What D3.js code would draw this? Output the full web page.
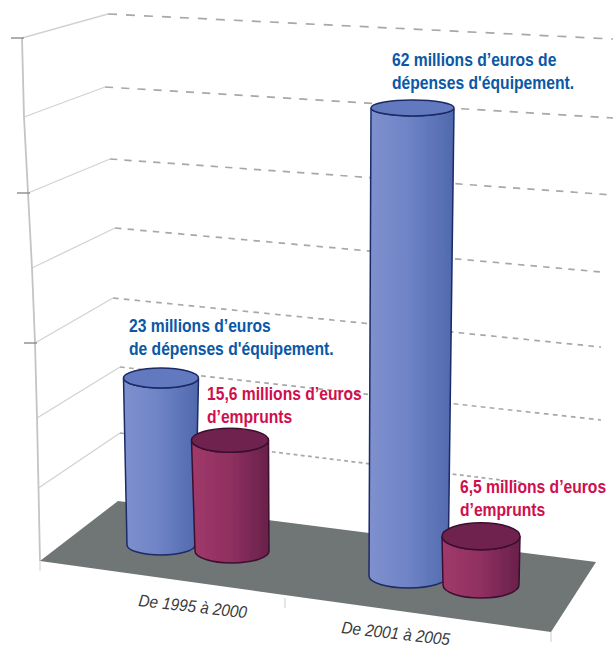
<!DOCTYPE html>
<html>
<head>
<meta charset="utf-8">
<script src="https://cdn.jsdelivr.net/npm/d3@7"></script>
<style>
html, body { margin: 0; padding: 0; background: #fff; }
svg { display: block; }
.note { font-family: "Liberation Sans", sans-serif; font-weight: bold; font-size: 18px; }
.cat { font-family: "Liberation Sans", sans-serif; font-style: italic; font-size: 17px; fill: #3a3a3a; }
</style>
</head>
<body>
<div id="chart"></div>
<script>

//Data
var categories = ["De 1995 à 2000", "De 2001 à 2005"];
var equipement = [23, 62];
var emprunts = [15.6, 6.5];
var gridValues = [0, 10, 20, 30, 40, 50, 60, 70];
var equipementNotes = ["23 millions d’euros|de dépenses d'équipement.", "62 millions d’euros de|dépenses d'équipement."];
var empruntsNotes = ["15,6 millions d’euros|d’emprunts", "6,5 millions d’euros|d’emprunts"];

var width = 613, height = 649;

var svg = d3.select("#chart").append("svg")
    .attr("width", width)
    .attr("height", height);

var defs = svg.append("defs");
defs.append("filter").attr("id", "soft")
    .append("feGaussianBlur").attr("stdDeviation", 0.7);
defs.append("filter").attr("id", "softer")
    .append("feGaussianBlur").attr("stdDeviation", 0.35);

var addGradient = function(id, stops){
    var g = defs.append("linearGradient").attr("id", id);
    stops.forEach(function(s){
        g.append("stop").attr("offset", s[0]).attr("stop-color", s[1]);
    });
};
addGradient("blueBody", [[0, "#7f90ce"], [0.45, "#6f84c6"], [1, "#4f69ad"]]);
addGradient("redBody", [[0, "#a03a6a"], [0.5, "#8f3060"], [1, "#68214a"]]);


//Wall scales, one value per gridline
var axisY = d3.scaleLinear().domain(gridValues).range([561, 488, 418, 343, 268, 193, 117, 38]);
var axisX = d3.scaleLinear().domain(gridValues).range([40, 38.5, 37, 35, 32, 28, 24, 22]);
var backX = d3.scaleLinear().domain(gridValues).range([118, 120, 120, 113, 115, 110, 105, 108]);
var backY = d3.scaleLinear().domain(gridValues).range([501, 433, 367, 298, 228, 159, 87, 14]);
var rightX = d3.scaleLinear().domain(gridValues).range([596, 525, 601, 601, 601, 613, 613, 613]);
var rightY = d3.scaleLinear().domain(gridValues).range([562, 483, 420, 347, 272, 195, 118, 39]);
var dashOn = d3.scaleLinear().domain([0, 70]).range([3, 9]);
var dashOff = d3.scaleLinear().domain([0, 70]).range([2.5, 9]);


//Walls
var grid = svg.append("g").attr("filter", "url(#soft)");
var lines = gridValues.filter(function(v){ return v > 0; });

grid.selectAll(".side").data(lines).enter().append("line")
    .attr("x1", axisX).attr("y1", axisY)
    .attr("x2", backX).attr("y2", backY)
    .attr("stroke", "#d2d2d2").attr("stroke-width", 1.3);

grid.selectAll(".back").data(lines).enter().append("line")
    .attr("x1", backX).attr("y1", backY)
    .attr("x2", rightX).attr("y2", rightY)
    .attr("stroke", "#a8a8a8").attr("stroke-width", 1.7)
    .attr("stroke-dasharray", function(v){ return dashOn(v) + "," + dashOff(v); });

grid.append("path")
    .attr("d", d3.line().x(axisX).y(axisY)(gridValues))
    .attr("fill", "none").attr("stroke", "#c4c4c4").attr("stroke-width", 1.8);

//Major ticks on the axis
grid.selectAll(".tick").data([30, 50, 70]).enter().append("line")
    .attr("x1", function(v){ return axisX(v) - 11; }).attr("y1", axisY)
    .attr("x2", function(v){ return axisX(v) + 2; }).attr("y2", axisY)
    .attr("stroke", "#8c8c8c").attr("stroke-width", 1.4);


//Floor
svg.append("polygon")
    .attr("points", "40,561 118,501 596,562 551,632")
    .attr("fill", "#6f7474")
    .attr("filter", "url(#softer)");

//Ticks under the floor
svg.append("g").selectAll("line").data([[40, 561], [285, 598], [551, 632]]).enter().append("line")
    .attr("x1", function(d){ return d[0]; }).attr("y1", function(d){ return d[1]; })
    .attr("x2", function(d){ return d[0]; }).attr("y2", function(d){ return d[1] + 10; })
    .attr("stroke", "#d6d6d6").attr("stroke-width", 1.2);


//Cylinders, each series has its own perspective scales
var seriesScale = function(r){
    var s = {};
    for (var key in r) s[key] = d3.scaleOrdinal().domain(categories).range(r[key]);
    return s;
};

var series = [
    {
        values: equipement, notes: equipementNotes, color: "#0a58a6",
        body: "blueBody", top: "#6479bf", line: "#1b2a66",
        scale: seriesScale({
            baseX: [161, 408.5], topX: [161, 412.5], baseY: [545, 576],
            unit: [7.26, 7.55], baseRx: [34, 39.5], topRx: [37.5, 41.5],
            baseRy: [10, 12], topRy: [10, 8],
            noteX: [129, 392], noteY: [332, 66]
        })
    },
    {
        values: emprunts, notes: empruntsNotes, color: "#cf0f4e",
        body: "redBody", top: "#6f2350", line: "#3d1030",
        scale: seriesScale({
            baseX: [232, 481], topX: [230, 481], baseY: [551, 585],
            unit: [7.1, 7.5], baseRx: [37, 38], topRx: [38.5, 39],
            baseRy: [12, 13], topRy: [12, 13.5],
            noteX: [207, 460], noteY: [400, 493]
        })
    }
];

var order = [
    {s: 0, c: 0}, {s: 1, c: 0}, {s: 0, c: 1}, {s: 1, c: 1}
];

var cyl = svg.append("g").attr("filter", "url(#softer)")
    .selectAll("g").data(order).enter().append("g");

cyl.each(function(d){
    var g = d3.select(this);
    var sr = series[d.s], sc = sr.scale, cat = categories[d.c];
    var v = sr.values[d.c];

    var bx = sc.baseX(cat), by = sc.baseY(cat), brx = sc.baseRx(cat), bry = sc.baseRy(cat);
    var tx = sc.topX(cat), ty = by - v * sc.unit(cat), trx = sc.topRx(cat), tr = sc.topRy(cat);

    var body = "M" + (tx - trx) + "," + ty +
        "L" + (bx - brx) + "," + by +
        "A" + brx + "," + bry + " 0 0 0 " + (bx + brx) + "," + by +
        "L" + (tx + trx) + "," + ty +
        "A" + trx + "," + tr + " 0 0 1 " + (tx - trx) + "," + ty + "Z";

    g.append("path").attr("d", body)
        .attr("fill", "url(#" + sr.body + ")")
        .attr("stroke", sr.line).attr("stroke-width", 1.5);

    g.append("ellipse")
        .attr("cx", tx).attr("cy", ty)
        .attr("rx", trx).attr("ry", tr)
        .attr("fill", sr.top)
        .attr("stroke", sr.line).attr("stroke-width", 1.5);
});


//Value notes, squeezed horizontally to look like the narrow face of the original
series.forEach(function(sr){
    categories.forEach(function(cat, i){
        sr.notes[i].split("|").forEach(function(line, n){
            svg.append("text").attr("class", "note")
                .attr("fill", sr.color)
                .attr("transform", "translate(" + sr.scale.noteX(cat) + "," +
                    (sr.scale.noteY(cat) + n * 23) + ") scale(0.87,1)")
                .text(line);
        });
    });
});


//Category labels
var catX = d3.scaleOrdinal().domain(categories).range([138, 341]);
var catY = d3.scaleOrdinal().domain(categories).range([606, 633]);

svg.selectAll(".cat").data(categories).enter().append("text")
    .attr("class", "cat")
    .attr("transform", function(d){
        return "translate(" + catX(d) + "," + catY(d) + ") rotate(6.5) scale(0.9,1)";
    })
    .text(function(d){ return d; });

</script>
</body>
</html>
